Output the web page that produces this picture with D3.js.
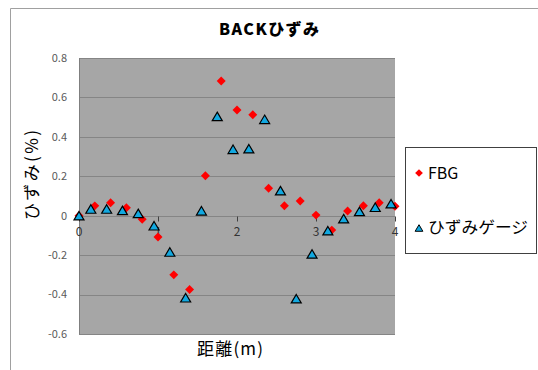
<!DOCTYPE html>
<html>
<head>
<meta charset="utf-8">
<script src="https://cdn.jsdelivr.net/npm/d3@7"></script>
<style>
  html, body { margin: 0; padding: 0; background: #fff; }
  svg { display: block; }
  text { font-family: "Noto Sans CJK JP", "Noto Sans", sans-serif; }
</style>
</head>
<body>
<svg id="chart" width="538" height="370"></svg>
<script>
// Measurement positions (m) and strain (%)
const fbgPos   = [0, 0.2, 0.4, 0.6, 0.8, 1.0, 1.2, 1.4, 1.6, 1.8, 2.0, 2.2, 2.4, 2.6, 2.8, 3.0, 3.2, 3.4, 3.6, 3.8, 4.0];
const fbgVals  = [0, 0.05, 0.066, 0.04, -0.018, -0.108, -0.30, -0.374, 0.203, 0.683, 0.536, 0.512, 0.139, 0.051, 0.075, 0.003, -0.073, 0.024, 0.051, 0.066, 0.048];
const gaugePos  = [0, 0.15, 0.35, 0.55, 0.75, 0.95, 1.15, 1.35, 1.55, 1.75, 1.95, 2.15, 2.35, 2.55, 2.75, 2.95, 3.15, 3.35, 3.55, 3.75, 3.95];
const gaugeVals = [0, 0.034, 0.034, 0.027, 0.012, -0.051, -0.184, -0.416, 0.025, 0.504, 0.337, 0.34, 0.489, 0.127, -0.421, -0.194, -0.076, -0.015, 0.022, 0.043, 0.061];

const yTicks = [0.8, 0.6, 0.4, 0.2, 0, -0.2, -0.4, -0.6];
const yTickLabels = ["0.8", "0.6", "0.4", "0.2", "0", "-0.2", "-0.4", "-0.6"];
const xTicks = [0, 1, 2, 3, 4];

const titleText = "BACKひずみ";
const xTitle = "距離(m)";
const yTitle = "ひずみ(%)";
const seriesNames = ["FBG", "ひずみゲージ"];

const svg = d3.select("#chart");
const plot = { left: 79, right: 395, top: 58, bottom: 334 };

const x = d3.scaleLinear().domain([0, 4]).range([plot.left, plot.right]);
const y = d3.scaleLinear().domain([-0.6, 0.8]).range([plot.bottom, plot.top]);

// Custom marker shapes: diamond and bbox-centred triangle
const diamond = { draw(ctx, size) { const r = Math.sqrt(size) / 2;
  ctx.moveTo(0, -r); ctx.lineTo(r, 0); ctx.lineTo(0, r); ctx.lineTo(-r, 0); ctx.closePath(); } };
const triangle = { draw(ctx, size) { const w = Math.sqrt(size); const h = w * 0.85;
  ctx.moveTo(0, -h / 2); ctx.lineTo(w / 2, h / 2); ctx.lineTo(-w / 2, h / 2); ctx.closePath(); } };

// Outer chart frame
svg.append("path")
  .attr("d", "M10.5,370 L10.5,8.5 L538,8.5")
  .attr("fill", "none").attr("stroke", "#a0a0a0").attr("stroke-width", 1);

// Plot background
svg.append("rect")
  .attr("x", plot.left).attr("y", plot.top)
  .attr("width", plot.right - plot.left).attr("height", plot.bottom - plot.top)
  .attr("fill", "#a6a6a6");

// Horizontal gridlines
svg.append("g").selectAll("line").data(yTicks).join("line")
  .attr("x1", plot.left).attr("x2", plot.right)
  .attr("y1", d => Math.round(y(d)) + 0.5).attr("y2", d => Math.round(y(d)) + 0.5)
  .attr("stroke", "#858585").attr("stroke-width", 1);

// Left value axis line
svg.append("line")
  .attr("x1", plot.left + 0.5).attr("x2", plot.left + 0.5)
  .attr("y1", plot.top).attr("y2", plot.bottom + 0.5)
  .attr("stroke", "#7f7f7f").attr("stroke-width", 1);

// Y tick labels
svg.append("g").selectAll("text").data(yTicks).join("text")
  .attr("x", 67).attr("y", d => y(d))
  .attr("dy", "0.35em")
  .attr("text-anchor", "end")
  .attr("font-size", 11)
  .attr("fill", "#595959")
  .text((d, i) => yTickLabels[i]);

// X axis crossing at zero: small tick marks and labels
const y0 = Math.round(y(0)) + 0.5;
svg.append("g").selectAll("line").data(xTicks).join("line")
  .attr("x1", d => Math.round(x(d)) + 0.5).attr("x2", d => Math.round(x(d)) + 0.5)
  .attr("y1", y0).attr("y2", y0 + 5)
  .attr("stroke", "#404040").attr("stroke-width", 1);

svg.append("g").selectAll("text").data(xTicks).join("text")
  .attr("x", d => x(d)).attr("y", y0 + 15)
  .attr("dy", "0.35em")
  .attr("text-anchor", "middle")
  .attr("font-size", 12)
  .attr("fill", "#333")
  .text(d => d);

// FBG series
svg.append("g").selectAll("path").data(fbgVals).join("path")
  .attr("transform", (d, i) => `translate(${x(fbgPos[i])},${y(d)})`)
  .attr("d", d3.symbol().type(diamond).size(80))
  .attr("fill", "#ff0000");

// Strain gauge series
svg.append("g").selectAll("path").data(gaugeVals).join("path")
  .attr("transform", (d, i) => `translate(${x(gaugePos[i])},${y(d)})`)
  .attr("d", d3.symbol().type(triangle).size(100))
  .attr("fill", "#12a8e0")
  .attr("stroke", "#000").attr("stroke-width", 1.2)
  .attr("stroke-linejoin", "miter");

// Title
svg.append("text")
  .attr("x", 269).attr("y", 29)
  .attr("dy", "0.35em")
  .attr("text-anchor", "middle")
  .attr("font-size", 16).attr("font-weight", 900)
  .attr("textLength", 100).attr("lengthAdjust", "spacing")
  .attr("fill", "#000")
  .text(titleText);

// Axis titles
svg.append("text")
  .attr("x", 230).attr("y", 349)
  .attr("dy", "0.35em")
  .attr("text-anchor", "middle")
  .attr("font-size", 17)
  .attr("textLength", 66).attr("lengthAdjust", "spacing")
  .attr("fill", "#000")
  .text(xTitle);

svg.append("text")
  .attr("transform", "translate(32,175) rotate(-90)")
  .attr("dy", "0.35em")
  .attr("text-anchor", "middle")
  .attr("font-size", 17)
  .attr("textLength", 90).attr("lengthAdjust", "spacing")
  .attr("fill", "#000")
  .text(yTitle);

// Legend
const legend = svg.append("g");
legend.append("rect")
  .attr("x", 405.5).attr("y", 147.5).attr("width", 131).attr("height", 106)
  .attr("fill", "#fff").attr("stroke", "#404040").attr("stroke-width", 1);
legend.append("path")
  .attr("transform", "translate(419,173)")
  .attr("d", d3.symbol().type(diamond).size(60))
  .attr("fill", "#ff0000");
legend.append("text")
  .attr("x", 428).attr("y", 173).attr("dy", "0.35em")
  .attr("font-size", 16).attr("fill", "#000")
  .text(seriesNames[0]);
legend.append("path")
  .attr("transform", "translate(419,228)")
  .attr("d", d3.symbol().type(triangle).size(60))
  .attr("fill", "#12a8e0")
  .attr("stroke", "#000").attr("stroke-width", 1);
legend.append("text")
  .attr("x", 428).attr("y", 227).attr("dy", "0.35em")
  .attr("font-size", 16).attr("fill", "#000")
  .attr("textLength", 100).attr("lengthAdjust", "spacingAndGlyphs")
  .text(seriesNames[1]);
</script>
</body>
</html>
